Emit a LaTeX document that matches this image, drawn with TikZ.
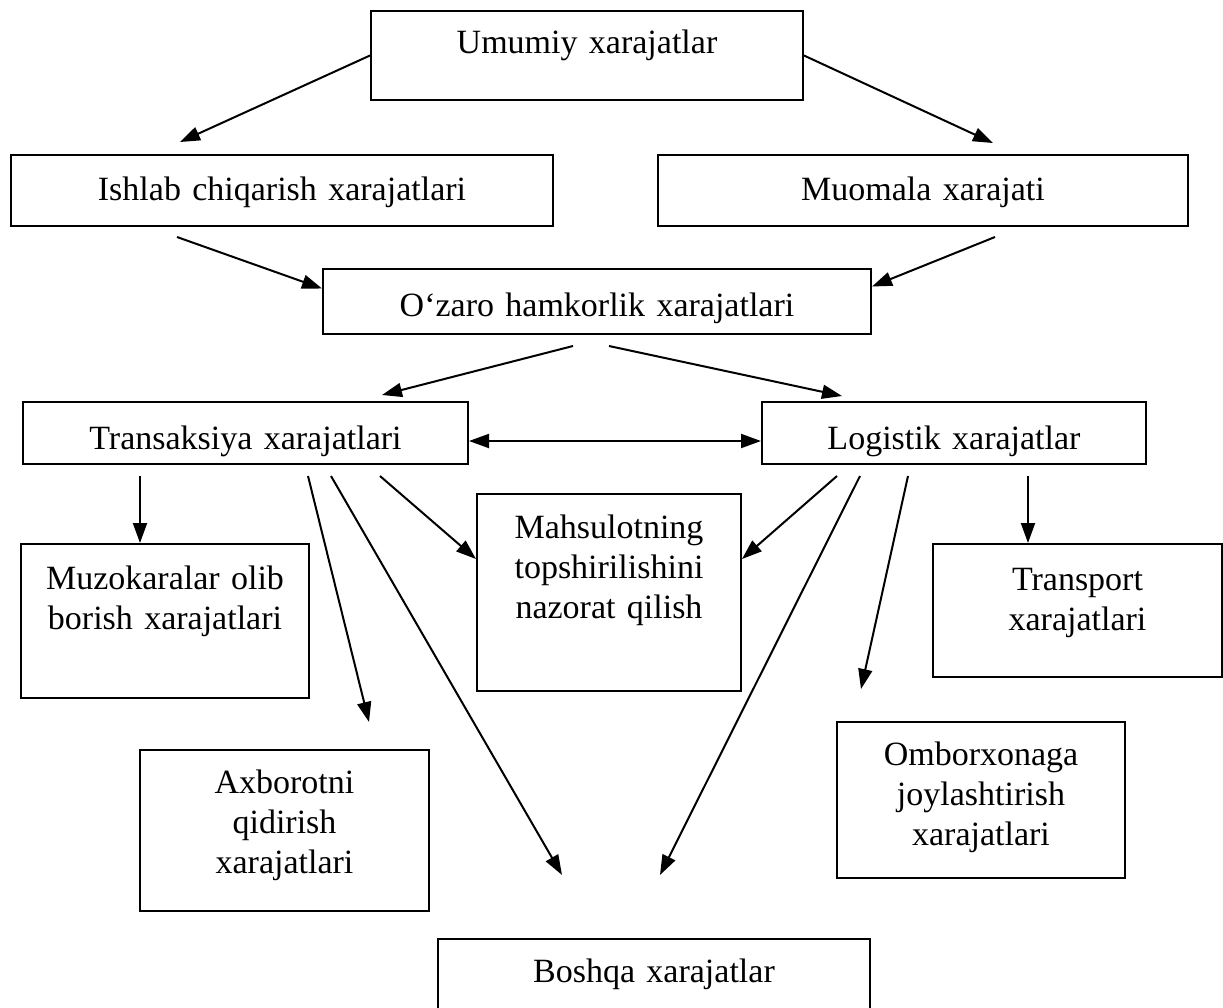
\documentclass[tikz,border=0pt]{standalone}
\usepackage{fontspec}
\setmainfont{Liberation Serif}
\usepackage{tikz}
\usetikzlibrary{arrows.meta, positioning, calc}

\tikzset{
    costbox/.style={draw, line width=1pt, inner sep=0pt, anchor=north west,
        align=center, font=\fontsize{17}{20}\selectfont},
    costarrow/.style={line width=1pt, -{Triangle[length=10pt, width=7pt]}},
    costtwoway/.style={line width=1pt, {Triangle[length=10pt, width=7pt]}-{Triangle[length=10pt, width=7pt]}}
}

\begin{document}
\begin{tikzpicture}[x=0.5pt, y=-0.5pt]
        \path[use as bounding box, clip] (0,0) rectangle (1223,1008);

        % boxes
        \node[costbox, text width=216pt, text height=21pt, text depth=23.5pt] (umumiy) at (370,10) {Umumiy xarajatlar};
        \node[costbox, text width=271pt, text height=22.5pt, text depth=13pt] (ishlab) at (10,154) {Ishlab chiqarish xarajatlari};
        \node[costbox, text width=265pt, text height=22.5pt, text depth=13pt] (muomala) at (657,154) {Muomala xarajati};
        \node[costbox, text width=274pt, text height=23.5pt, text depth=9pt] (ozaro) at (322,268) {O‘zaro hamkorlik xarajatlari};
        \node[costbox, text width=222.5pt, text height=23.5pt, text depth=7.5pt] (trans) at (22,401) {Transaksiya xarajatlari};
        \node[costbox, text width=192pt, text height=23.5pt, text depth=7.5pt] (logistik) at (761,401) {Logistik xarajatlar};
        \node[costbox, text width=144pt, text height=22.5pt, text depth=54.5pt] (muzokara) at (20,543) {Muzokaralar olib\\borish xarajatlari};
        \node[costbox, text width=132pt, text height=22pt, text depth=76.5pt] (mahsulot) at (476,493) {Mahsulotning\\topshirilishini\\nazorat qilish};
        \node[costbox, text width=144.5pt, text height=23pt, text depth=43.5pt] (transport) at (932,543) {Transport\\xarajatlari};
        \node[costbox, text width=144.5pt, text height=21.5pt, text depth=59pt] (axborot) at (139,749) {Axborotni\\qidirish\\xarajatlari};
        \node[costbox, text width=144pt, text height=21.5pt, text depth=56.5pt] (ombor) at (836,721) {Omborxonaga\\joylashtirish\\xarajatlari};
        \node[costbox, text width=216pt, text height=21.5pt, text depth=30pt] (boshqa) at (437,938) {Boshqa xarajatlar};

        % free arrow ends
        \coordinate (ishlabTip) at (180,142);
        \coordinate (muomalaTip) at (993,143);
        \coordinate (ishlabOut) at (177,237);
        \coordinate (muomalaOut) at (995,237);
        \coordinate (ozaroOutL) at (573,346);
        \coordinate (ozaroOutR) at (609,346);
        \coordinate (transTip) at (382,395);
        \coordinate (logistikTip) at (842,396);
        \coordinate (transOutA) at (140,476);
        \coordinate (transOutB) at (308,476);
        \coordinate (transOutC) at (331,476);
        \coordinate (transOutD) at (380,476);
        \coordinate (logistikOutA) at (837,476);
        \coordinate (logistikOutB) at (860,476);
        \coordinate (logistikOutC) at (908,476);
        \coordinate (logistikOutD) at (1028,476);
        \coordinate (axborotTip) at (369,722);
        \coordinate (boshqaTipL) at (562,875);
        \coordinate (boshqaTipR) at (660,875);
        \coordinate (omborTip) at (861,689);

        % arrows
        \draw[costarrow] (umumiy.west) -- (ishlabTip);
        \draw[costarrow] (umumiy.east) -- (muomalaTip);
        \draw[costarrow] (ishlabOut) -- ([yshift=6.5pt]ozaro.west);
        \draw[costarrow] (muomalaOut) -- ([yshift=7.5pt]ozaro.east);
        \draw[costarrow] (ozaroOutL) -- (transTip);
        \draw[costarrow] (ozaroOutR) -- (logistikTip);
        \draw[costtwoway] ([yshift=-4pt]trans.east) -- ([yshift=-4pt]logistik.west);
        \draw[costarrow] (transOutA) -- (transOutA |- muzokara.north);
        \draw[costarrow] (transOutB) -- (axborotTip);
        \draw[costarrow] (transOutC) -- (boshqaTipL);
        \draw[costarrow] (transOutD) -- ([yshift=16.75pt]mahsulot.west);
        \draw[costarrow] (logistikOutA) -- ([yshift=16.75pt]mahsulot.east);
        \draw[costarrow] (logistikOutB) -- (boshqaTipR);
        \draw[costarrow] (logistikOutC) -- (omborTip);
        \draw[costarrow] (logistikOutD) -- (logistikOutD |- transport.north);
    \end{tikzpicture}
\end{document}
